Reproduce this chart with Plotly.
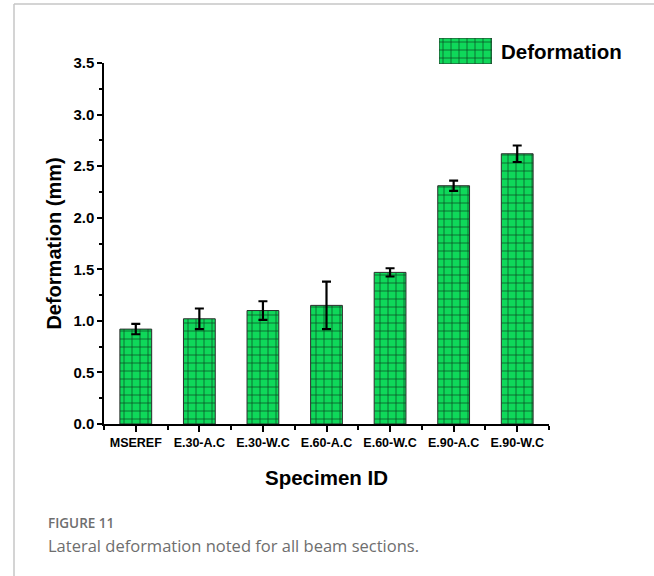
import plotly.graph_objects as go

# Lateral deformation per beam section (mm) with error margins
specimens = ["MSEREF", "E.30-A.C", "E.30-W.C", "E.60-A.C", "E.60-W.C", "E.90-A.C", "E.90-W.C"]
deformation = [0.92, 1.02, 1.10, 1.15, 1.47, 2.31, 2.62]
deformation_err = [0.05, 0.10, 0.09, 0.23, 0.04, 0.05, 0.08]

series_name = "Deformation"
y_ticks = [0.0, 0.5, 1.0, 1.5, 2.0, 2.5, 3.0, 3.5]

W, H = 654, 576
ML, MR, MT, MB = 104, 105, 30, 152
PLOT_W = W - ML - MR
PLOT_H = H - MT - MB


def px_x(px):
    return (px - ML) / PLOT_W


def px_y(py):
    return (H - MB - py) / PLOT_H


BAR_GREEN = "#0fd85a"
GRID_DARK = "#0a4520"
FONT_BOLD = "Liberation Sans, Arial, sans-serif"

pattern = dict(shape="+", size=8, solidity=0.17, fgcolor=GRID_DARK,
               bgcolor=BAR_GREEN, fillmode="replace")

x_idx = list(range(len(specimens)))

fig = go.Figure()
fig.add_trace(go.Bar(
    x=x_idx, y=deformation, width=0.5, name=series_name,
    marker=dict(color=BAR_GREEN, line=dict(color="#2b2b2b", width=1), pattern=pattern),
    error_y=dict(type="data", array=deformation_err, visible=True,
                 color="black", thickness=2.2, width=4.5),
    showlegend=False,
))

# legend swatch drawn as a patterned bar on its own small axes
fig.add_trace(go.Bar(
    x=[0], y=[1], width=1, xaxis="x2", yaxis="y2", showlegend=False, hoverinfo="skip",
    marker=dict(color=BAR_GREEN, line=dict(color="#2b2b2b", width=1), pattern=pattern),
))

fig.update_layout(
    width=W, height=H,
    margin=dict(l=ML, r=MR, t=MT, b=MB),
    paper_bgcolor="white", plot_bgcolor="white",
    showlegend=False,
    bargap=0.5,
    xaxis=dict(
        range=[-0.5, len(specimens) - 0.5],
        tickmode="array", tickvals=x_idx, ticktext=specimens,
        ticks="outside", ticklen=6, tickwidth=1.5, tickcolor="black",
        minor=dict(tick0=0.5, dtick=1, ticks="outside", ticklen=4, tickwidth=1.5, tickcolor="black"),
        showline=True, linecolor="black", linewidth=1.5,
        showgrid=False, zeroline=False,
        tickfont=dict(family=FONT_BOLD, size=12.5, color="black", weight="bold"),
        title=dict(text="Specimen ID", standoff=22,
                   font=dict(family=FONT_BOLD, size=20.5, color="black", weight="bold")),
    ),
    yaxis=dict(
        domain=[0, px_y(63)],
        range=[0, 3.5],
        tickmode="array", tickvals=y_ticks, ticktext=[f"{v:.1f}" for v in y_ticks],
        ticks="outside", ticklen=5, tickwidth=1.5, tickcolor="black",
        minor=dict(tick0=0.25, dtick=0.5, ticks="outside", ticklen=3, tickwidth=1.5, tickcolor="black"),
        showline=True, linecolor="black", linewidth=1.5,
        showgrid=False, zeroline=False,
        tickfont=dict(family=FONT_BOLD, size=15, color="black", weight="bold"),
        title=dict(text="Deformation (mm)", standoff=6,
                   font=dict(family=FONT_BOLD, size=20, color="black", weight="bold")),
    ),
    xaxis2=dict(domain=[px_x(439), px_x(492)], range=[-0.5, 0.5], anchor="y2",
                visible=False, fixedrange=True),
    yaxis2=dict(domain=[px_y(64), px_y(38)], range=[0, 1], anchor="x2",
                visible=False, fixedrange=True),
    annotations=[
        dict(text=series_name, xref="paper", yref="paper", x=px_x(499), y=px_y(51),
             xanchor="left", yanchor="middle", showarrow=False,
             font=dict(family=FONT_BOLD, size=20.5, color="black", weight="bold")),
        dict(text="FIGURE 11", xref="paper", yref="paper", x=px_x(46), y=px_y(523),
             xanchor="left", yanchor="middle", showarrow=False,
             font=dict(family="Open Sans, sans-serif", size=13.5, color="#6e6e6e", weight=600)),
        dict(text="Lateral deformation noted for all beam sections.", xref="paper", yref="paper",
             x=px_x(46), y=px_y(545), xanchor="left", yanchor="middle", showarrow=False,
             font=dict(family="Open Sans, sans-serif", size=16.5, color="#6e6e6e")),
    ],
    shapes=[
        dict(type="line", xref="paper", yref="paper", x0=px_x(14), x1=px_x(W + 2),
             y0=px_y(4), y1=px_y(4), line=dict(color="#c6c6c6", width=1.5)),
        dict(type="line", xref="paper", yref="paper", x0=px_x(14), x1=px_x(14),
             y0=px_y(4), y1=px_y(H + 2), line=dict(color="#c6c6c6", width=1.5)),
    ],
)

fig.write_html("out.html")
